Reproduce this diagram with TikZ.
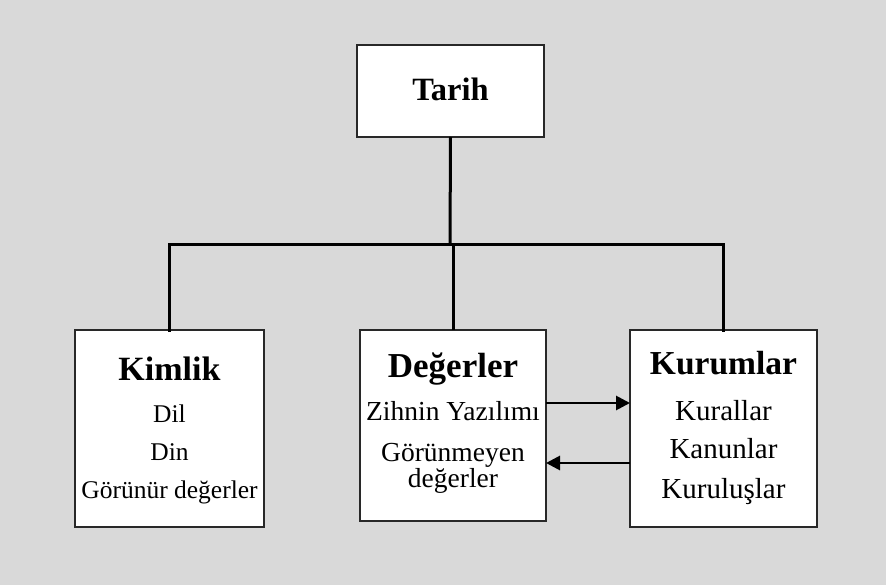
\documentclass[tikz,border=0pt]{standalone}
\usepackage{fontspec}
\setmainfont{Liberation Serif}
\usetikzlibrary{arrows.meta}
\definecolor{bggray}{RGB}{217,217,217}
\definecolor{boxline}{RGB}{40,40,40}
\begin{document}
\begin{tikzpicture}[x=1pt,y=1pt,
  box/.style={draw=boxline,line width=1.8pt,fill=white,inner sep=0pt,outer sep=0pt},
  head/.style={anchor=base,inner sep=0pt,font=\fontsize{#1}{38}\selectfont\bfseries},
  item/.style={anchor=base,inner sep=0pt,font=\fontsize{#1}{28}\selectfont},
  conn/.style={line width=3pt,black},
  arr/.style={line width=2.8pt,black,-{Triangle[length=14pt,width=14pt]}}]
\fill[bggray] (0,0) rectangle (886,-585);
\useasboundingbox (0,0) rectangle (886,-585);
% boxes
\node[box,minimum width=187pt,minimum height=92pt] (tarih) at (450.5,-91) {};
\node[box,minimum width=189pt,minimum height=197pt] (kimlik) at (169.5,-428.5) {};
\node[box,minimum width=186pt,minimum height=191pt] (degerler) at (453,-425.5) {};
\node[box,minimum width=187pt,minimum height=197pt] (kurumlar) at (723.5,-428.5) {};
% connectors
\coordinate (bar) at (450,-245);
\draw[conn] (tarih.south) -- (bar);
\draw[conn,line cap=rect] (kimlik.north) |- (kurumlar.north |- bar) -- (kurumlar.north);
\draw[conn] (degerler.north) -- (degerler.north |- bar);
\coordinate (a1) at (0,-403);
\coordinate (a2) at (0,-463);
\draw[arr] (degerler.east |- a1) -- (kurumlar.west |- a1);
\draw[arr] (kurumlar.west |- a2) -- (degerler.east |- a2);
% texts
\node[head=32.5] (t0) at (450.5,-101) {Tarih};
\node[head=34] (k0) at (169.5,-380) {Kimlik};
\node[item=25.5] (k1) at (169.5,-422) {Dil};
\node[item=25.5] (k2) at (169.5,-460) {Din};
\node[item=25.5] (k3) at (169.5,-498) {Görünür değerler};
\node[head=35] (d0) at (453,-377) {Değerler};
\node[item=27.5] (d1) at (453,-420) {Zihnin Yazılımı};
\node[item=27.5] (d2) at (453,-461) {Görünmeyen};
\node[item=27.5] (d3) at (453,-487) {değerler};
\node[head=33.5] (u0) at (723.5,-374) {Kurumlar};
\node[item=29] (u1) at (723.5,-420) {Kurallar};
\node[item=29] (u2) at (723.5,-458) {Kanunlar};
\node[item=29] (u3) at (723.5,-498) {Kuruluşlar};
\end{tikzpicture}
\end{document}
